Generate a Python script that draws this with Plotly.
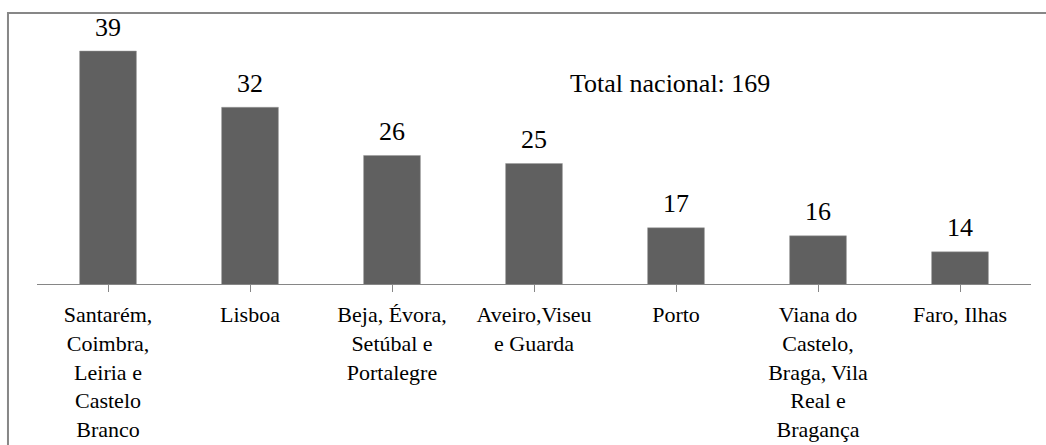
import plotly.graph_objects as go

categories = [
    "Santarém,<br>Coimbra,<br>Leiria e<br>Castelo<br>Branco",
    "Lisboa",
    "Beja, Évora,<br>Setúbal e<br>Portalegre",
    "Aveiro,Viseu<br>e Guarda",
    "Porto",
    "Viana do<br>Castelo,<br>Braga, Vila<br>Real e<br>Bragança",
    "Faro, Ilhas",
]
values = [39, 32, 26, 25, 17, 16, 14]
total_label = "Total nacional: 169"

FONT = "Times New Roman"
positions = list(range(len(values)))

fig = go.Figure(
    go.Bar(
        x=positions,
        y=values,
        marker=dict(color="#606060", line=dict(color="#9a9a9a", width=0.5)),
        width=0.4,
        hoverinfo="skip",
    )
)

value_labels = [
    dict(
        x=p, y=v, xref="x", yref="y",
        text=str(v),
        showarrow=False,
        xanchor="center", yanchor="middle",
        yshift=24,
        font=dict(family=FONT, size=26, color="#000000"),
    )
    for p, v in zip(positions, values)
]

fig.update_layout(
    width=1046,
    height=445,
    margin=dict(l=37, r=15, t=43, b=161, autoexpand=False),
    paper_bgcolor="white",
    plot_bgcolor="white",
    showlegend=False,
    font=dict(family=FONT, color="#000000"),
    xaxis=dict(
        tickmode="array",
        tickvals=positions,
        ticktext=categories,
        range=[-0.5, len(values) - 0.5],
        tickson="boundaries",
        ticks="outside",
        ticklen=7,
        tickcolor="#868686",
        tickwidth=1,
        showline=True,
        linecolor="#868686",
        linewidth=1,
        showgrid=False,
        zeroline=False,
        automargin=False,
        ticklabelstandoff=4,
        tickfont=dict(family=FONT, size=22, color="#000000"),
        fixedrange=True,
    ),
    yaxis=dict(range=[10, 40], visible=False, showgrid=False, zeroline=False,
               automargin=False, fixedrange=True),
    annotations=value_labels + [
        dict(
            text=total_label,
            xref="paper", yref="paper",
            x=0.534, y=0.83,
            xanchor="left", yanchor="middle",
            showarrow=False,
            font=dict(family=FONT, size=26, color="#000000"),
        )
    ],
    shapes=[
        dict(
            type="rect",
            xref="paper", yref="paper",
            x0=-0.0292, x1=1.2, y0=-1.0, y1=1.1245,
            line=dict(color="#878787", width=2),
            fillcolor="rgba(0,0,0,0)",
            layer="below",
        )
    ],
)

fig.write_html("out.html", config={"displayModeBar": False},
               post_script="document.body.style.margin='0';")
